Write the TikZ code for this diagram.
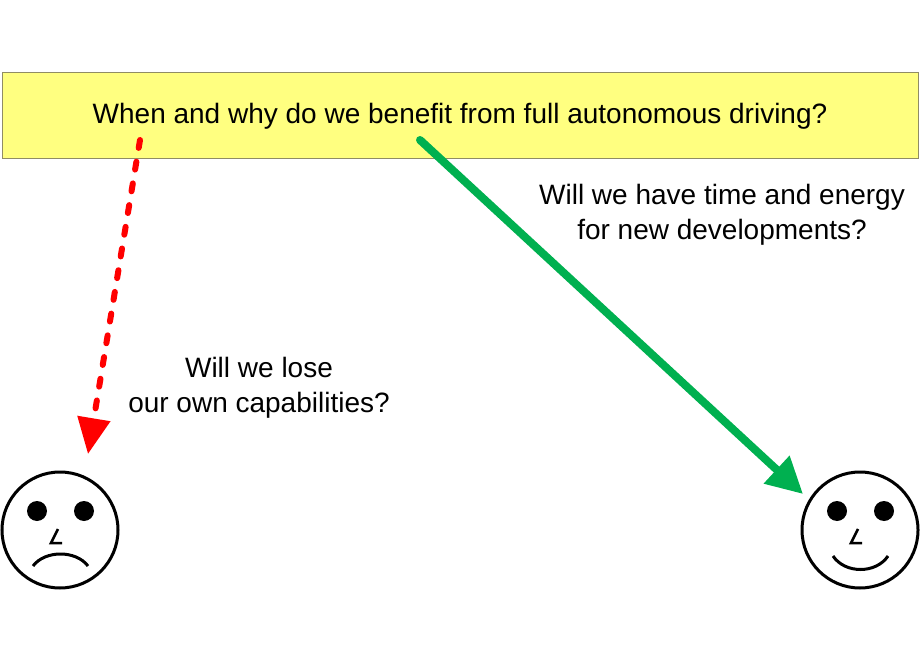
\documentclass[tikz,border=0pt]{standalone}
\usepackage{fontspec}
\setmainfont{Liberation Sans}
\usetikzlibrary{arrows.meta}
\begin{document}
\begin{tikzpicture}[x=1pt,y=-1pt,
  txt/.style={font=\fontsize{28}{35}\selectfont,align=center,inner sep=0},
  face/.style={line width=3pt},
  eye/.style={fill=black}]
\useasboundingbox (0,0) rectangle (920,660);
\node[draw=black!50!yellow!60!gray,fill={rgb,255:red,255;green,255;blue,128},minimum width=916,minimum height=86,inner sep=0] (box) at (460,115) {};
\node[txt] (q) at (460,116) {When and why do we benefit from full autonomous driving?};
\coordinate (rs) at (140,140);
\coordinate (gs) at (420,140);
\node[face,draw,circle,minimum size=116,inner sep=0] (sad) at (60,530) {};
\node[face,draw,circle,minimum size=116,inner sep=0] (happy) at (860,530) {};
\coordinate (re) at (88,454);
\coordinate (ge) at (803,494);
\draw[red,line width=6pt,line cap=round,dash pattern=on 8pt off 14pt,-{Triangle[length=36pt,width=32pt]}] (rs) -- (re);
\draw[color={rgb,255:red,0;green,176;blue,80},line width=8pt,line cap=round,-{Triangle[length=36pt,width=36pt]}] (gs) -- (ge);
\node[txt] (t1) at (722,215) {Will we have time and energy\\for new developments?};
\node[txt] (t2) at (259,388) {Will we lose\\our own capabilities?};
\fill (37,511) circle (10); \fill (84,511) circle (10);
\draw[line width=2.5pt] (58,529) -- (51,543) -- (62,543);
\draw[face] (33,566) .. controls (45,550) and (76,550) .. (88,566);
\fill (837,511) circle (10); \fill (884,511) circle (10);
\draw[line width=2.5pt] (858,529) -- (851,543) -- (862,543);
\draw[face] (833,556) .. controls (845,574) and (876,574) .. (888,556);
\end{tikzpicture}
\end{document}
